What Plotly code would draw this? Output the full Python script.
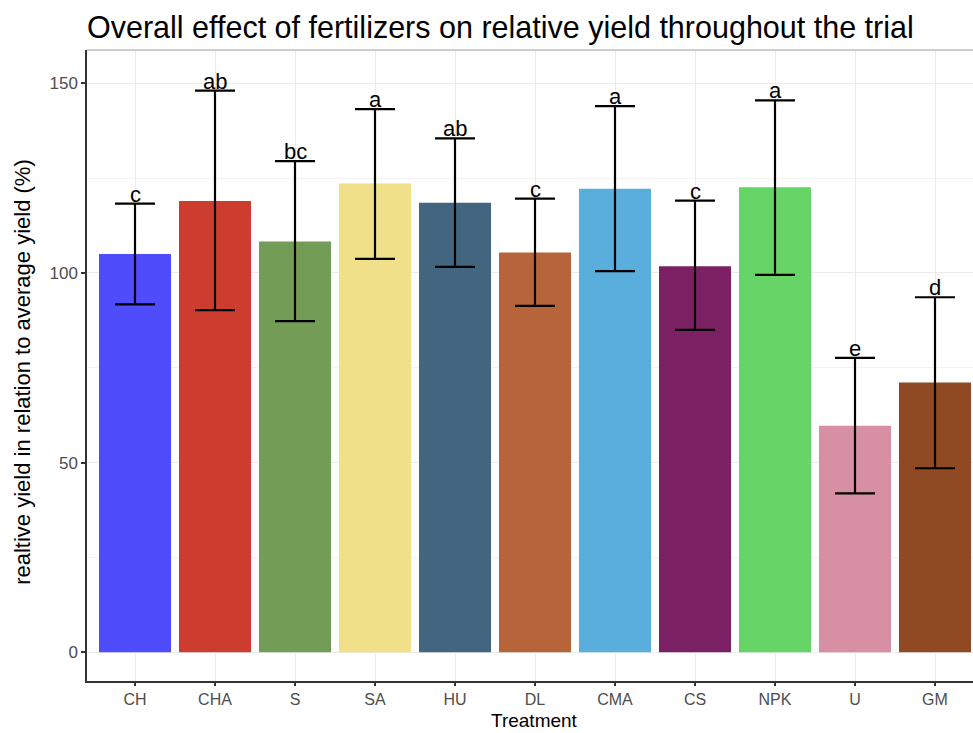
import plotly.graph_objects as go

# Treatments and their mean relative yield (%) with error-bar limits
treatments = ["CH", "CHA", "S", "SA", "HU", "DL", "CMA", "CS", "NPK", "U", "GM"]
mean_yield = [105.0, 119.0, 108.3, 123.6, 118.5, 105.4, 122.2, 101.8, 122.6, 59.7, 71.1]
upper = [118.3, 148.1, 129.5, 143.2, 135.5, 119.6, 144.0, 119.1, 145.5, 77.6, 93.6]
lower = [91.7, 90.2, 87.3, 103.7, 101.6, 91.3, 100.5, 85.0, 99.5, 41.9, 48.5]
groups = ["c", "ab", "bc", "a", "ab", "c", "a", "c", "a", "e", "d"]
colors = ["#4F4CFB", "#CC3D30", "#739C56", "#F0E08A", "#426680", "#B8643A",
          "#5AAEDB", "#7B2163", "#66D466", "#D68FA3", "#8F4A23"]

FONT = "Liberation Sans, Arial, sans-serif"

err_plus = [u - m for u, m in zip(upper, mean_yield)]
err_minus = [m - l for m, l in zip(mean_yield, lower)]

fig = go.Figure()
fig.add_trace(go.Bar(
    x=treatments,
    y=mean_yield,
    width=0.9,
    marker=dict(color=colors, line=dict(width=0)),
    error_y=dict(type="data", symmetric=False, array=err_plus, arrayminus=err_minus,
                 color="black", thickness=2.2, width=20),
    showlegend=False,
))

# Significance letters sitting on top of each upper cap
for t, u, g in zip(treatments, upper, groups):
    fig.add_annotation(x=t, y=u, text=g, showarrow=False, yanchor="bottom",
                       yshift=-5, font=dict(size=22, color="black", family=FONT))

# Axis titles
fig.add_annotation(text="Treatment", xref="paper", yref="paper", x=0.5056, y=0,
                   xanchor="center", yanchor="bottom", yshift=-52, showarrow=False,
                   font=dict(size=19, color="black", family=FONT))
fig.add_annotation(text="realtive yield in relation to average yield (%)",
                   xref="paper", yref="paper", x=0, y=0.49, xanchor="center",
                   yanchor="middle", xshift=-64, textangle=-90, showarrow=False,
                   font=dict(size=22, color="black", family=FONT))

# Light top border of the panel
fig.add_shape(type="line", xref="paper", yref="paper", x0=0, x1=1, y0=1, y1=1,
              line=dict(color="#BDBDBD", width=1.5))

fig.update_layout(
    width=973, height=733,
    margin=dict(l=87, r=0, t=50, b=52),
    paper_bgcolor="white", plot_bgcolor="white",
    font=dict(family=FONT),
    title=dict(text="Overall effect of fertilizers on relative yield throughout the trial",
               x=0, xref="paper", xanchor="left", y=0.963, yanchor="middle",
               font=dict(size=30.5, color="black")),
    bargap=0.1,
)

fig.update_xaxes(
    range=[-0.6, 10.475],
    showgrid=True, gridcolor="#EBEBEB", gridwidth=1,
    showline=True, linecolor="#333333", linewidth=1.5,
    ticks="outside", ticklen=3, tickcolor="#333333", tickwidth=1.5,
    tickfont=dict(size=16, color="#4D4D4D"),
)

fig.update_yaxes(
    range=[-7.6, 158.8],
    tickvals=[0, 50, 100, 150],
    showgrid=True, gridcolor="#EBEBEB", gridwidth=1,
    minor=dict(tickvals=[25, 75, 125], showgrid=True, gridcolor="#F3F3F3", gridwidth=1),
    zeroline=False,
    showline=True, linecolor="#333333", linewidth=1.5,
    ticks="outside", ticklen=4, tickcolor="#333333", tickwidth=1.5,
    tickfont=dict(size=17, color="#4D4D4D"),
)

fig.write_html("out.html")
